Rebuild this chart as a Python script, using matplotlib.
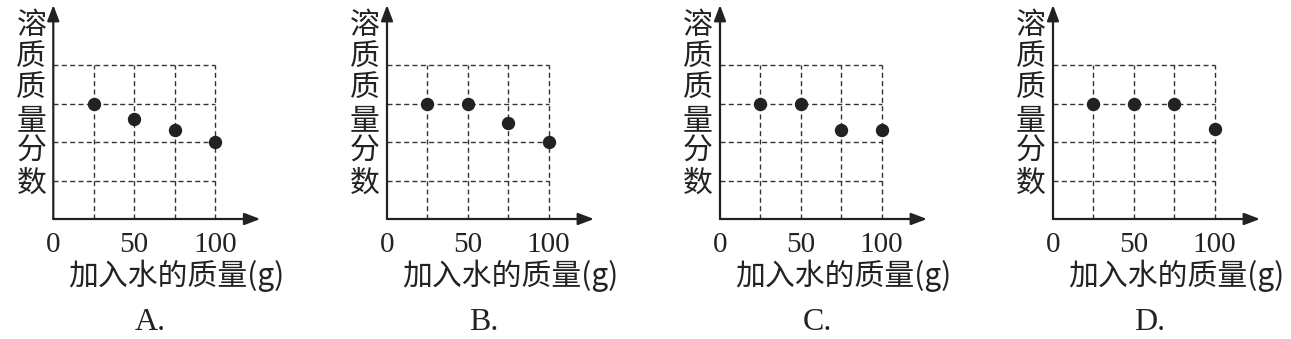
import numpy as np
from matplotlib import pyplot as plt

plt.rcParams['font.family'] = ['Noto Sans CJK SC', 'DejaVu Sans']

# water added (g) and solute fraction readings for the four options
water = [25, 50, 75, 100]
frac_A = [3, 2.6, 2.3, 2]
frac_B = [3, 3, 2.5, 2]
frac_C = [3, 3, 2.3, 2.3]
frac_D = [3, 3, 3, 2.35]
option_names = ['A.', 'B.', 'C.', 'D.']
tick_vals = [0, 50, 100]
tick_labels = ['0', '50', '100']
y_grid = [1, 2, 3, 4]
ylabel = '溶质质量分数'
xlabel = '加入水的质量(g)'

W, H = 1291, 339
INK = '#222222'


def panel(fig, x0, values, name):
    # x0, y0: pixel position of the origin
    y0 = 219
    w_px, h_px = 207, 214
    ax = fig.add_axes([x0 / W, (H - y0) / H, w_px / W, h_px / H])
    ax.set_xlim(0, 128)
    ax.set_ylim(0, 5.56)

    for s in ['top', 'right', 'left', 'bottom']:
        ax.spines[s].set_visible(False)

    # dashed grid
    ax.hlines(y_grid, 0, water[-1], colors='#333333', lw=1.0, linestyles=(0, (3.6, 2.4)))
    ax.vlines(water, 0, y_grid[-1], colors='#333333', lw=1.0, linestyles=(0, (3.6, 2.4)))

    # axes with arrows
    arrow = dict(arrowstyle='-|>,head_length=0.95,head_width=0.36', lw=1.6,
                 color=INK, shrinkA=0, shrinkB=0)
    ax.annotate('', xy=(1, 0), xytext=(0, 0), xycoords='axes fraction', arrowprops=arrow)
    ax.annotate('', xy=(0, 1), xytext=(0, 0), xycoords='axes fraction', arrowprops=arrow)

    ax.plot(water, values, 'o', color=INK, markersize=8.6, zorder=5, clip_on=False)

    ax.set_yticks([])
    ax.set_xticks(tick_vals)
    ax.set_xticklabels(tick_labels, family='Liberation Serif', fontsize=21, color=INK)
    ax.tick_params(axis='x', length=0, pad=9)

    # stacked vertical y label
    for i, ch in enumerate(ylabel):
        yp = 26 + i * 31.4
        ax.text(-13.6, (y0 - yp) / h_px, ch, transform=ax.get_xaxis_transform(),
                ha='center', va='center', fontsize=21.5, color=INK)

    ax.text(76, (y0 - 276) / h_px, xlabel, transform=ax.get_xaxis_transform(),
            ha='center', va='center', fontsize=21.5, color=INK)
    ax.text(60, (y0 - 323) / h_px, name, transform=ax.get_xaxis_transform(),
            ha='center', va='center', fontsize=23, color=INK, family='Liberation Serif')
    return ax


if __name__ == "__main__":
    fig = plt.figure(figsize=(W / 100, H / 100), dpi=100)
    origins = [53.3, 387, 720, 1053]
    for x0, vals, name in zip(origins, [frac_A, frac_B, frac_C, frac_D], option_names):
        panel(fig, x0, vals, name)
    fig.savefig('out.png', dpi=100, facecolor='white')
    plt.close()
